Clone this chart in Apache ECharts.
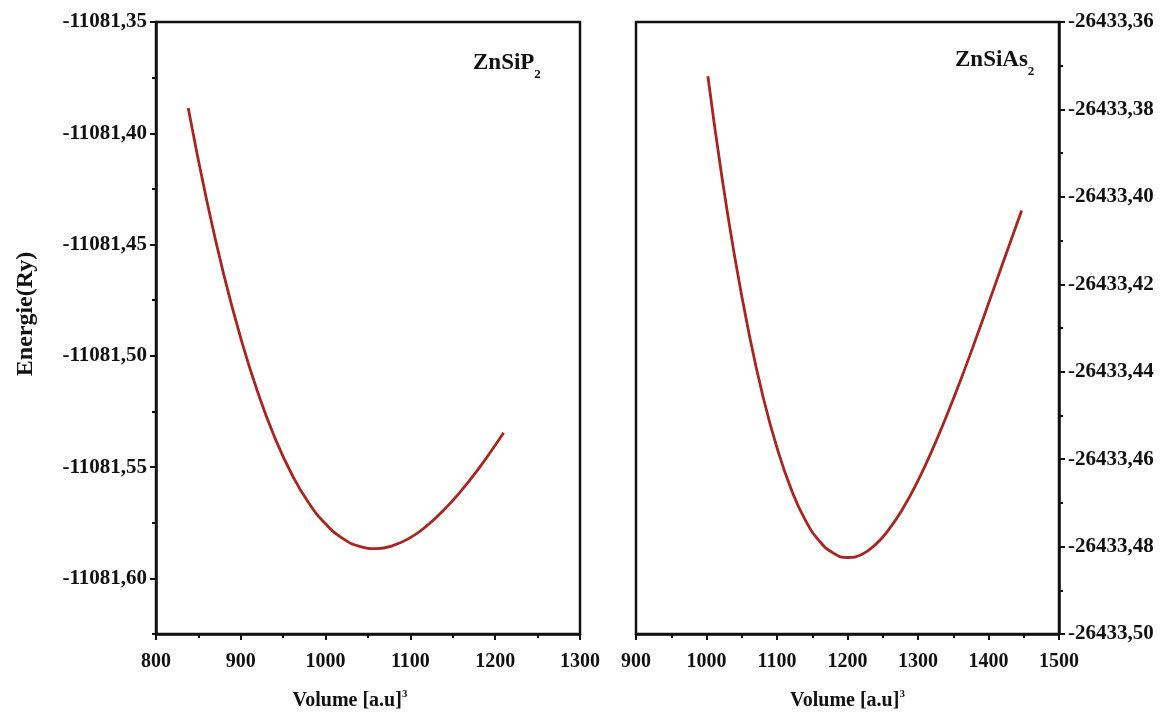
<!DOCTYPE html>
<html>
<head>
<meta charset="utf-8">
<script src="https://cdn.jsdelivr.net/npm/echarts@6/dist/echarts.min.js"></script>
<style>html,body{margin:0;padding:0;background:#fff;}#c{width:1164px;height:717px;}</style>
</head>
<body>
<div id="c"></div>
<script>
// ZnSiP2 (left panel)
const volP = [838, 860, 880, 900, 920, 940, 960, 980, 1000, 1020, 1040, 1060, 1080, 1100, 1120, 1140, 1160, 1180, 1200, 1210];
const energyP = [-11081.3886, -11081.4305, -11081.4636, -11081.4921, -11081.5164, -11081.5367, -11081.5531, -11081.5660, -11081.5755, -11081.5820, -11081.5856, -11081.5866, -11081.5852, -11081.5817, -11081.5762, -11081.5691, -11081.5606, -11081.5509, -11081.5402, -11081.5346];
// ZnSiAs2 (right panel)
const volAs = [1002, 1020, 1040, 1060, 1080, 1100, 1120, 1140, 1160, 1180, 1200, 1220, 1240, 1260, 1280, 1300, 1320, 1340, 1360, 1380, 1400, 1420, 1447];
const energyAs = [-26433.3724, -26433.3934, -26433.4137, -26433.4310, -26433.4456, -26433.4574, -26433.4668, -26433.4739, -26433.4787, -26433.4815, -26433.4825, -26433.4818, -26433.4795, -26433.4758, -26433.4709, -26433.4649, -26433.4580, -26433.4503, -26433.4421, -26433.4334, -26433.4244, -26433.4153, -26433.4031];
// tick labels
const yTicksP = [-11081.60, -11081.55, -11081.50, -11081.45, -11081.40, -11081.35];
const yMinorP = [-11081.625, -11081.575, -11081.525, -11081.475, -11081.425, -11081.375];
const yTicksAs = [-26433.50, -26433.48, -26433.46, -26433.44, -26433.42, -26433.40, -26433.38, -26433.36];
const yMinorAs = [-26433.49, -26433.47, -26433.45, -26433.43, -26433.41, -26433.39, -26433.37];
const labelP = 'ZnSiP';
const labelAs = 'ZnSiAs';
const yName = 'Energie(Ry)';
const xName = 'Volume [a.u]';

const FONT = '"Liberation Serif", "DejaVu Serif", serif';
const BLACK = '#111';
const CURVE = '#a8261f';
const fmt = v => (Math.round(v * 100) / 100).toFixed(2).replace('.', ',');

const lineStyle = { color: BLACK, width: 2.5 };
const labelStyle = { color: BLACK, fontFamily: FONT, fontWeight: 'bold', fontSize: 20 };
const yLabelStyle = { color: BLACK, fontFamily: FONT, fontWeight: 'bold', fontSize: 21 };

function xAxis(grid, min, max, namePad) {
  return {
    type: 'value', gridIndex: grid, min: min, max: max, interval: 100, position: 'bottom',
    axisLine: { show: true, lineStyle: lineStyle },
    axisTick: { show: true, length: 6, lineStyle: { color: BLACK, width: 2 } },
    minorTick: { show: true, splitNumber: 2, length: 4, lineStyle: { color: BLACK, width: 2 } },
    splitLine: { show: false },
    axisLabel: Object.assign({ margin: 18, formatter: v => String(Math.round(v)) }, labelStyle),
    name: xName + '{s|3}', nameLocation: 'middle', nameGap: 55, nameMoveOverlap: false,
    nameTextStyle: {
      color: BLACK, fontFamily: FONT, fontWeight: 'bold', fontSize: 20, padding: namePad,
      lineHeight: 24, verticalAlign: 'top',
      rich: { s: { fontFamily: FONT, fontWeight: 'bold', fontSize: 11, color: BLACK, verticalAlign: 'top', lineHeight: 24 } }
    }
  };
}

const titleStyle = { fontFamily: FONT, fontWeight: 'bold', fontSize: 23, color: BLACK, lineHeight: 36, verticalAlign: 'top',
  rich: { s: { fontFamily: FONT, fontWeight: 'bold', fontSize: 13, color: BLACK, lineHeight: 36, verticalAlign: 'bottom' } } };

const option = {
  backgroundColor: '#fff',
  animation: false,
  title: [
    { text: labelP + '{s|2}', left: 468, top: 40, textStyle: titleStyle },
    { text: labelAs + '{s|2}', left: 950, top: 37, textStyle: titleStyle }
  ],
  grid: [
    { left: 156, right: 584, top: 22, bottom: 83, outerBoundsMode: 'none', containLabel: false,
      show: true, borderColor: BLACK, borderWidth: 2.5, backgroundColor: 'transparent' },
    { left: 636, right: 105, top: 22, bottom: 83, outerBoundsMode: 'none', containLabel: false,
      show: true, borderColor: BLACK, borderWidth: 2.5, backgroundColor: 'transparent' }
  ],
  xAxis: [
    xAxis(0, 800, 1300, [0, 36, 0, 0]),
    xAxis(1, 900, 1500, [0, 0, 0, 0])
  ],
  yAxis: [
    { type: 'value', gridIndex: 0, position: 'left', min: -11081.625, max: -11081.35,
      axisLine: { show: true, lineStyle: lineStyle },
      axisTick: { show: true, length: 6, customValues: yTicksP, lineStyle: { color: BLACK, width: 2 } },
      axisLabel: Object.assign({ margin: 9, customValues: yTicksP, formatter: fmt }, yLabelStyle),
      splitLine: { show: false },
      name: yName, nameLocation: 'middle', nameGap: 118, nameRotate: 90, nameMoveOverlap: false,
      nameTextStyle: { color: BLACK, fontFamily: FONT, fontWeight: 'bold', fontSize: 24, padding: [0, 0, 0, 28] }
    },
    { type: 'value', gridIndex: 0, position: 'left', min: -11081.625, max: -11081.35,
      axisLine: { show: false },
      axisTick: { show: true, length: 4, customValues: yMinorP, lineStyle: { color: BLACK, width: 2 } },
      axisLabel: { show: false }, splitLine: { show: false }
    },
    { type: 'value', gridIndex: 1, position: 'right', min: -26433.50, max: -26433.36,
      axisLine: { show: true, lineStyle: lineStyle },
      axisTick: { show: true, length: 6, customValues: yTicksAs, lineStyle: { color: BLACK, width: 2 } },
      axisLabel: Object.assign({ margin: 9, customValues: yTicksAs, formatter: fmt }, yLabelStyle),
      splitLine: { show: false }
    },
    { type: 'value', gridIndex: 1, position: 'right', min: -26433.50, max: -26433.36,
      axisLine: { show: false },
      axisTick: { show: true, length: 4, customValues: yMinorAs, lineStyle: { color: BLACK, width: 2 } },
      axisLabel: { show: false }, splitLine: { show: false }
    }
  ],
  series: [
    { type: 'line', xAxisIndex: 0, yAxisIndex: 0, smooth: true, showSymbol: false,
      lineStyle: { color: CURVE, width: 2.8 }, itemStyle: { color: CURVE },
      data: volP.map((v, i) => [v, energyP[i]]) },
    { type: 'line', xAxisIndex: 1, yAxisIndex: 2, smooth: true, showSymbol: false,
      lineStyle: { color: CURVE, width: 2.8 }, itemStyle: { color: CURVE },
      data: volAs.map((v, i) => [v, energyAs[i]]) }
  ]
};

const chart = echarts.init(document.getElementById('c'), null, { renderer: 'canvas' });
chart.setOption(option);
</script>
</body>
</html>
